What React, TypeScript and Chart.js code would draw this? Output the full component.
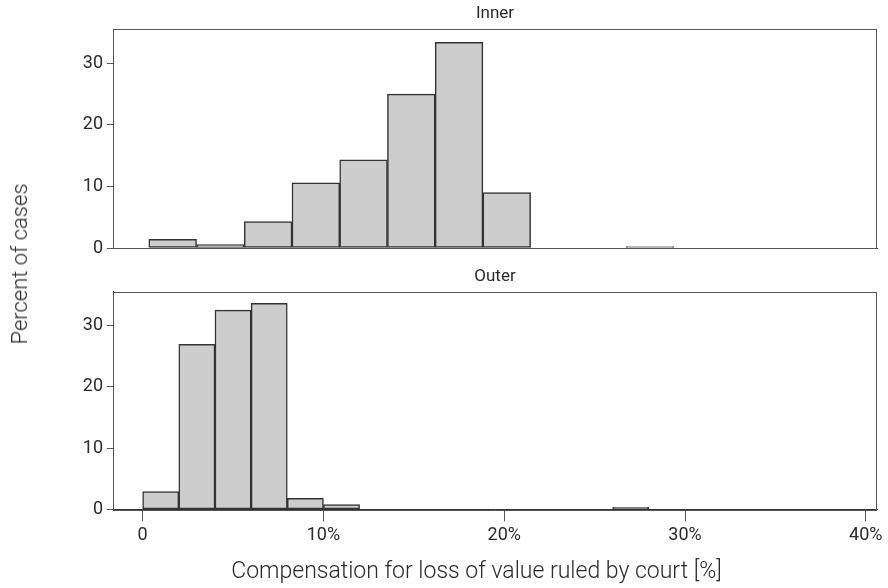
import React, { useEffect, useRef } from "react";
import { Chart, registerables } from "chart.js";

Chart.register(...registerables);

// Histogram bins (bin centres in % compensation) and percent of cases
const innerBinCenters = [1.66, 4.3, 6.94, 9.58, 12.22, 14.86, 17.5, 20.14, 22.78, 25.42, 28.06];
const innerPercent = [1.4, 0.55, 4.3, 10.6, 14.3, 25.0, 33.4, 9.0, 0, 0, 0.25];

const outerBinCenters = [1, 3, 5, 7, 9, 11, 13, 15, 17, 19, 21, 23, 25, 27];
const outerPercent = [2.9, 26.9, 32.5, 33.6, 1.8, 0.75, 0, 0, 0, 0, 0, 0, 0, 0.33];

const xTickValues = [0, 10, 20, 30, 40];
const yTickValues = [0, 10, 20, 30];
const panelTitles = ["Inner", "Outer"];
const xAxisTitle = "Compensation for loss of value ruled by court [%]";
const yAxisTitle = "Percent of cases";

const FONT = "Roboto, 'Noto Sans', sans-serif";
const TEXT = "#2b2b2b";

const boxPlugin = {
  id: "panelBox",
  afterDatasetsDraw(chart: any) {
    const { ctx, chartArea } = chart;
    ctx.save();
    ctx.strokeStyle = "#555";
    ctx.lineWidth = 1;
    ctx.strokeRect(
      Math.round(chartArea.left) + 0.5,
      Math.round(chartArea.top) + 0.5,
      Math.round(chartArea.right - chartArea.left) - 1,
      Math.round(chartArea.bottom - chartArea.top)
    );
    ctx.restore();
  },
};

function makeConfig(centers: number[], values: number[], title: string, showX: boolean, padTop: number, xHeight: number) {
  return {
    type: "bar" as const,
    data: {
      datasets: [
        {
          data: centers.map((c, i) => ({ x: c, y: values[i] })),
          backgroundColor: "#cdcdcd",
          borderColor: "#333",
          borderWidth: 1.5,
          borderSkipped: false,
          barPercentage: 1,
          categoryPercentage: 1,
          grouped: false,
        },
      ],
    },
    options: {
      animation: false,
      responsive: false,
      maintainAspectRatio: false,
      layout: { padding: { top: padTop, right: 11, bottom: 0, left: 0 } },
      plugins: {
        legend: { display: false },
        tooltip: { enabled: false },
        title: {
          display: true,
          text: title,
          fullSize: false,
          color: TEXT,
          font: { family: FONT, size: 17, weight: "normal" },
          padding: { top: 4, bottom: 5 },
        },
      },
      scales: {
        x: {
          type: "linear",
          display: true,
          min: -1.64,
          max: 40.62,
          offset: false,
          afterBuildTicks: (s: any) => {
            s.ticks = xTickValues.map((v) => ({ value: v }));
          },
          afterFit: (s: any) => {
            s.height = xHeight;
          },
          grid: { display: showX, drawOnChartArea: false, drawTicks: showX, tickLength: 12, color: "#555", offset: false },
          border: { display: true, color: "#333", width: 1 },
          ticks: {
            display: showX,
            color: TEXT,
            padding: 3,
            maxRotation: 0,
            font: { family: FONT, size: 18, weight: "normal" },
            callback: (v: any) => (v === 0 ? "0" : v + "%"),
          },
        },
        y: {
          type: "linear",
          min: 0,
          max: 35.5,
          afterBuildTicks: (s: any) => {
            s.ticks = yTickValues.map((v) => ({ value: v }));
          },
          afterFit: (s: any) => {
            s.width = 113;
          },
          grid: { display: true, drawOnChartArea: false, drawTicks: true, tickLength: 6, color: "#555" },
          border: { display: true, color: "#333", width: 1 },
          ticks: {
            color: TEXT,
            padding: 4,
            font: { family: FONT, size: 18, weight: "normal" },
          },
        },
      },
    },
    plugins: [boxPlugin],
  };
}

export default function App() {
  const topRef = useRef<HTMLCanvasElement>(null);
  const botRef = useRef<HTMLCanvasElement>(null);

  useEffect(() => {
    const c1 = new Chart(topRef.current as HTMLCanvasElement, makeConfig(innerBinCenters, innerPercent, panelTitles[0], false, 0, 20) as any);
    const c2 = new Chart(botRef.current as HTMLCanvasElement, makeConfig(outerBinCenters, outerPercent, panelTitles[1], true, 6.3, 78.7) as any);
    return () => {
      c1.destroy();
      c2.destroy();
    };
  }, []);

  const textStyle: React.CSSProperties = {
    position: "absolute",
    whiteSpace: "nowrap",
    fontFamily: FONT,
    fontWeight: 300,
    fontSize: 22,
    color: TEXT,
    lineHeight: 1,
  };

  return (
    <div style={{ position: "fixed", left: 0, top: 0, width: 888, height: 588, background: "#fff" }}>
      <canvas ref={topRef} width={888} height={268} style={{ position: "absolute", left: 0, top: 0, width: 888, height: 268 }} />
      <canvas ref={botRef} width={888} height={332} style={{ position: "absolute", left: 0, top: 256, width: 888, height: 332 }} />
      <div style={{ ...textStyle, left: 20, top: 264, transform: "translate(-50%, -50%) rotate(-90deg)" }}>{yAxisTitle}</div>
      <div style={{ ...textStyle, fontSize: 23, left: 476.5, top: 570, transform: "translate(-50%, -50%)" }}>{xAxisTitle}</div>
    </div>
  );
}
